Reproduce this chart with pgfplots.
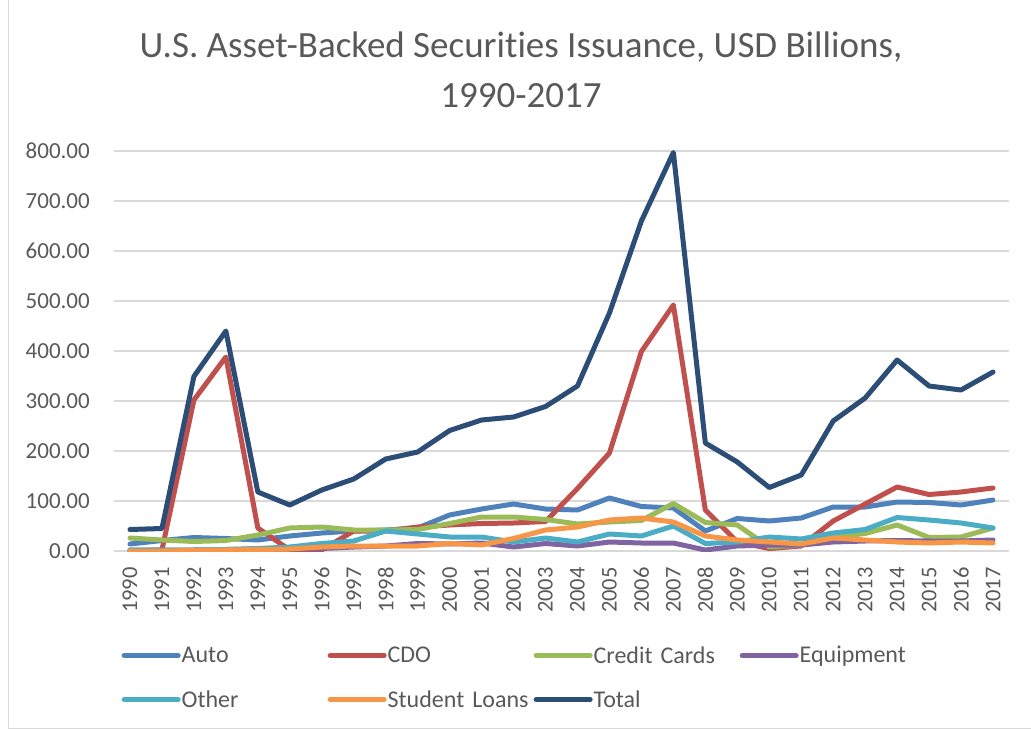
\documentclass[border=0pt]{standalone}
\usepackage{pgfplots}
\pgfplotsset{compat=1.18}
\usepackage{fontspec}
\setmainfont{Carlito}[Ligatures=NoCommon]

\definecolor{cauto}{HTML}{4F81BD}
\definecolor{ccdo}{HTML}{C0504D}
\definecolor{ccc}{HTML}{9BBB59}
\definecolor{cequip}{HTML}{8064A2}
\definecolor{cother}{HTML}{4BACC6}
\definecolor{cstud}{HTML}{F79646}
\definecolor{ctotal}{HTML}{2C4D75}
\definecolor{txt}{HTML}{595959}
\definecolor{cgrid}{HTML}{D9D9D9}

% issuance by year, USD billions
\pgfplotstableread{
year auto cdo cc equip other stud total
1990 14 0 26 2 2 0 43
1991 21 2 22 2 2 0 45
1992 27 302 19 2 2 1 349
1993 25 388 21 3 3 2 440
1994 22 46 32 4 5 3 118
1995 30 2 46 4 8 4 92
1996 36 2 48 5 15 8 122
1997 40 40 42 8 20 10 144
1998 42 40 42 10 40 10 184
1999 46 48 43 15 34 10 198
2000 72 52 55 14 28 15 241
2001 84 55 68 16 28 12 262
2002 94 56 68 8 18 25 268
2003 84 59 63 15 26 42 289
2004 82 125 54 10 18 48 330
2005 106 196 58 18 34 62 476
2006 89 399 61 16 30 66 660
2007 86 492 95 16 50 58 797
2008 40 82 57 2 15 30 216
2009 65 18 52 10 18 22 178
2010 60 5 8 12 28 18 127
2011 66 10 12 12 24 14 152
2012 88 60 28 18 36 26 260
2013 88 94 35 20 43 22 306
2014 98 128 52 21 67 18 382
2015 97 113 27 20 62 16 330
2016 92 118 28 20 56 18 322
2017 102 126 46 22 46 16 358
}\data

\begin{document}
\begin{tikzpicture}[x=1pt,y=1pt]
\useasboundingbox (0,0) rectangle (1031,729);
\draw[cgrid, line width=1pt] (8,729) -- (8,1) -- (1031,1);
\node[font=\fontsize{37}{50}\selectfont, text=txt, align=center] at (521,659)
  {U.S. Asset-Backed Securities Issuance, USD Billions,\\1990-2017};
\begin{axis}[
    at={(114pt,178pt)}, anchor=south west,
    scale only axis, width=895pt, height=400pt,
    xmin=1989.5, xmax=2017.5,
    ymin=0, ymax=800,
    ytick={0,100,...,800},
    xtick={1990,1991,...,2017},
    axis line style={draw=none},
    major tick length=0pt,
    xmajorgrids=false,
    ymajorgrids=true,
    grid style={cgrid, line width=1.3pt},
    tick label style={text=txt},
    yticklabel style={font=\fontsize{23}{26}\selectfont, anchor=east, inner sep=0pt, xshift=-24pt,
      /pgf/number format/.cd, fixed, fixed zerofill, precision=2, assume math mode=true},
    xticklabel style={font=\fontsize{22.5}{26}\selectfont, rotate=90, anchor=east, inner sep=0pt, xshift=-16pt,
      /pgf/number format/.cd, 1000 sep={}, assume math mode=true},
    legend columns=4,
    legend cell align=left,
    legend style={at={(0.005,-0.233)}, anchor=north west, draw=none, fill=none,
      font=\fontsize{24}{27}\selectfont, text=txt, row sep=26pt,
      nodes={inner xsep=1pt, inner ysep=0pt, text width=145pt}},
    legend image code/.code={\draw[#1, line cap=round, line width=5pt] (0pt,0pt) -- (54pt,0pt);},
    every axis plot/.append style={line width=5pt, line join=round, line cap=round},
]
\addplot[cauto] table[x=year, y=auto] {\data};
\addlegendentry{Auto}
\addplot[ccdo] table[x=year, y=cdo] {\data};
\addlegendentry{CDO}
\addplot[ccc] table[x=year, y=cc] {\data};
\addlegendentry{Credit Cards}
\addplot[cequip] table[x=year, y=equip] {\data};
\addlegendentry{Equipment}
\addplot[cother] table[x=year, y=other] {\data};
\addlegendentry{Other}
\addplot[cstud] table[x=year, y=stud] {\data};
\addlegendentry{Student Loans}
\addplot[ctotal] table[x=year, y=total] {\data};
\addlegendentry{Total}
\end{axis}
\end{tikzpicture}
\end{document}
